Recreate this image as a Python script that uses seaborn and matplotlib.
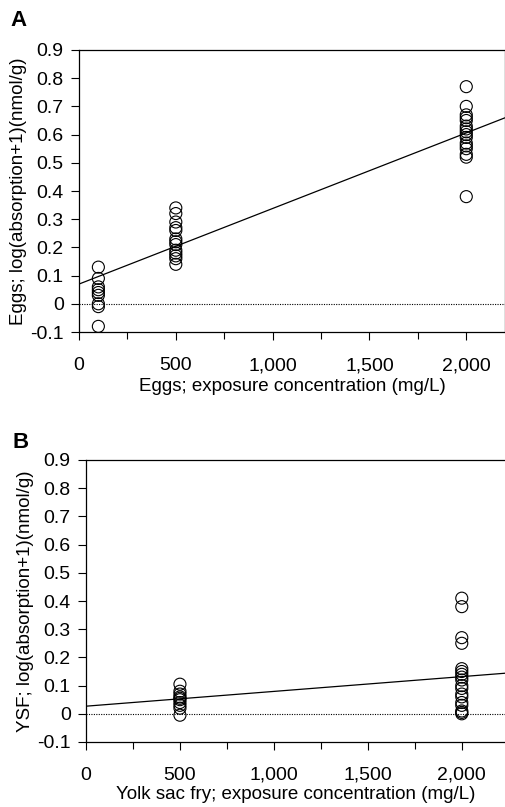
import numpy as np
import pandas as pd
import matplotlib
matplotlib.use("Agg")
import matplotlib.pyplot as plt
import seaborn as sns
from matplotlib.ticker import FixedLocator

# ---------------- data ----------------
eggs_conc_100 = [100] * 9
eggs_val_100 = [0.13, 0.09, 0.06, 0.05, 0.04, 0.03, 0.00, -0.01, -0.08]
eggs_conc_500 = [500] * 13
eggs_val_500 = [0.34, 0.32, 0.29, 0.27, 0.26, 0.23, 0.22, 0.21, 0.19, 0.18, 0.17, 0.16, 0.14]
eggs_conc_2000 = [2000] * 16
eggs_val_2000 = [0.77, 0.70, 0.67, 0.66, 0.65, 0.63, 0.62, 0.61, 0.60, 0.59, 0.57, 0.56,
                 0.55, 0.53, 0.52, 0.38]
eggs_fit = [0.07, 0.000268]  # intercept, slope

ysf_conc_500 = [500] * 10
ysf_val_500 = [0.105, 0.08, 0.07, 0.06, 0.055, 0.05, 0.04, 0.03, 0.02, -0.005]
ysf_conc_2000 = [2000] * 18
ysf_val_2000 = [0.41, 0.38, 0.27, 0.25, 0.16, 0.15, 0.14, 0.13, 0.12, 0.10, 0.09, 0.07,
                0.06, 0.04, 0.03, 0.01, 0.005, 0.0]
ysf_fit = [0.027, 0.0000524]

y_ticks = [-0.1, 0, 0.1, 0.2, 0.3, 0.4, 0.5, 0.6, 0.7, 0.8, 0.9]
y_tick_labels = ["-0.1", "0", "0.1", "0.2", "0.3", "0.4", "0.5", "0.6", "0.7", "0.8", "0.9"]
x_ticks = [0, 500, 1000, 1500, 2000]
x_tick_labels = ["0", "500", "1,000", "1,500", "2,000"]
x_minor = [250, 750, 1250, 1750]

eggs = pd.DataFrame({"conc": eggs_conc_100 + eggs_conc_500 + eggs_conc_2000,
                     "val": eggs_val_100 + eggs_val_500 + eggs_val_2000})
ysf = pd.DataFrame({"conc": ysf_conc_500 + ysf_conc_2000,
                    "val": ysf_val_500 + ysf_val_2000})

# ---------------- style ----------------
sns.set_style("ticks")
plt.rcParams["font.family"] = ["Liberation Sans", "DejaVu Sans"]
plt.rcParams["axes.linewidth"] = 0.9
plt.rcParams["text.color"] = "black"
plt.rcParams["axes.labelcolor"] = "black"
plt.rcParams["xtick.color"] = "black"
plt.rcParams["ytick.color"] = "black"

fig = plt.figure(figsize=(5.05, 8.07), dpi=100)
W, H = 505, 807


def make_axes(l, r, t, b):
    return fig.add_axes([l / W, 1 - b / H, (r - l) / W, (b - t) / H])


axA = make_axes(79, 505, 50, 332)
axB = make_axes(86, 505, 460, 742)


def style(ax, df, fit, xmax, xlabel, ylabel, right_spine, xpad, xlabelpad):
    sns.scatterplot(data=df, x="conc", y="val", ax=ax, s=75, marker="o",
                    facecolors="none", edgecolor="black", linewidth=0.8, legend=False)
    ax.axline((0, fit[0]), slope=fit[1], color="black", lw=0.9)
    ax.axhline(0, color="black", lw=0.8, ls=(0, (1, 1.2)))
    ax.set_xlim(0, xmax)
    ax.set_ylim(-0.1, 0.9)
    ax.set_yticks(y_ticks)
    ax.set_yticklabels(y_tick_labels, fontsize=14)
    ax.set_xticks(x_ticks)
    ax.set_xticklabels(x_tick_labels, fontsize=14)
    ax.xaxis.set_minor_locator(FixedLocator(x_minor))
    ax.tick_params(axis="both", which="major", direction="out", length=6, width=0.8,
                   color="black", labelcolor="black")
    ax.tick_params(axis="x", which="major", pad=xpad)
    ax.tick_params(axis="x", which="minor", direction="out", length=5, width=0.8)
    ax.tick_params(axis="y", pad=5)
    ax.set_xlabel(xlabel, fontsize=13.5, labelpad=xlabelpad)
    ax.set_ylabel(ylabel, fontsize=13.5, labelpad=2)
    for s in ["top", "left", "bottom"]:
        ax.spines[s].set_visible(True)
        ax.spines[s].set_color("black")
    ax.spines["right"].set_visible(right_spine)
    ax.spines["right"].set_color("black")


style(axA, eggs, eggs_fit, 2200, "Eggs; exposure concentration (mg/L)",
      "Eggs; log(absorption+1)(nmol/g)", True, 12, 3)
style(axB, ysf, ysf_fit, 2230, "Yolk sac fry; exposure concentration (mg/L)",
      "YSF; log(absorption+1)(nmol/g)", False, 12, 1.5)

fig.text(10 / W, 1 - 21 / H, "A", fontsize=16, fontweight="bold", va="center", ha="left")
fig.text(12 / W, 1 - 443 / H, "B", fontsize=16, fontweight="bold", va="center", ha="left")

fig.savefig("out.png", dpi=100)
